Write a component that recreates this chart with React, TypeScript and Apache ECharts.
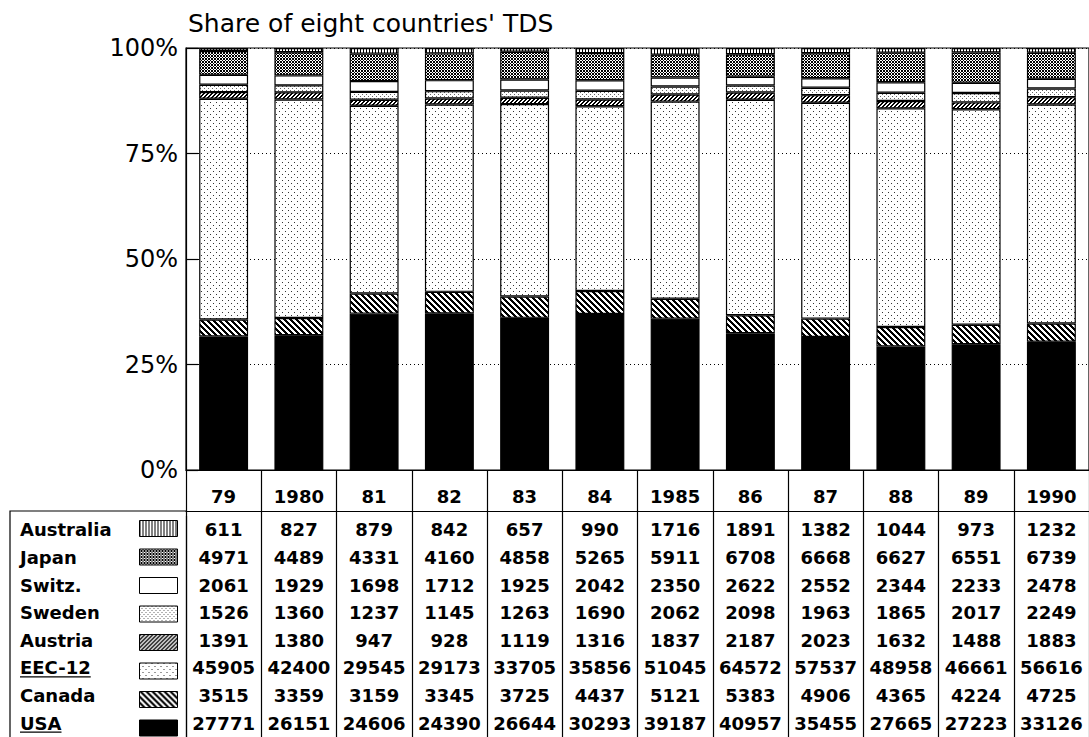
import React, { useEffect, useRef } from 'react';
import * as echarts from 'echarts';

const years = ['79', '1980', '81', '82', '83', '84', '1985', '86', '87', '88', '89', '1990'];
const countries = ['Australia', 'Japan', 'Switz.', 'Sweden', 'Austria', 'EEC-12', 'Canada', 'USA'];
const australia = [611, 827, 879, 842, 657, 990, 1716, 1891, 1382, 1044, 973, 1232];
const japan = [4971, 4489, 4331, 4160, 4858, 5265, 5911, 6708, 6668, 6627, 6551, 6739];
const switz = [2061, 1929, 1698, 1712, 1925, 2042, 2350, 2622, 2552, 2344, 2233, 2478];
const sweden = [1526, 1360, 1237, 1145, 1263, 1690, 2062, 2098, 1963, 1865, 2017, 2249];
const austria = [1391, 1380, 947, 928, 1119, 1316, 1837, 2187, 2023, 1632, 1488, 1883];
const eec12 = [45905, 42400, 29545, 29173, 33705, 35856, 51045, 64572, 57537, 48958, 46661, 56616];
const canada = [3515, 3359, 3159, 3345, 3725, 4437, 5121, 5383, 4906, 4365, 4224, 4725];
const usa = [27771, 26151, 24606, 24390, 26644, 30293, 39187, 40957, 35455, 27665, 27223, 33126];
const yTickLabels = ['0%', '25%', '50%', '75%', '100%'];
const underlined = ['EEC-12', 'USA'];

const valuesByCountry: Record<string, number[]> = {
  'Australia': australia,
  'Japan': japan,
  'Switz.': switz,
  'Sweden': sweden,
  'Austria': austria,
  'EEC-12': eec12,
  'Canada': canada,
  'USA': usa,
};

const FONT = 'DejaVu Sans';

function makePattern(w: number, h: number, pick: (x: number, y: number) => string | null) {
  const c = document.createElement('canvas');
  c.width = w;
  c.height = h;
  const ctx = c.getContext('2d')!;
  ctx.fillStyle = '#fff';
  ctx.fillRect(0, 0, w, h);
  for (let y = 0; y < h; y++) {
    for (let x = 0; x < w; x++) {
      const col = pick(x, y);
      if (col) {
        ctx.fillStyle = col;
        ctx.fillRect(x, y, 1, 1);
      }
    }
  }
  return { image: c.toDataURL(), repeat: 'repeat', imageWidth: w, imageHeight: h } as any;
}

function buildFills(): Record<string, any> {
  return {
    'Australia': makePattern(3, 3, (x) => (x === 0 ? '#000' : null)),
    'Japan': makePattern(3, 3, (x, y) => ((x + y) % 3 === 0 || (x - y + 3) % 3 === 0 ? '#000' : null)),
    'Switz.': '#ffffff',
    'Sweden': makePattern(4, 4, (x, y) => ((x === 0 && y === 0) || (x === 2 && y === 2) ? '#666' : null)),
    'Austria': makePattern(4, 4, (x, y) => ((x + y) % 4 < 2 ? '#000' : null)),
    'EEC-12': makePattern(6, 6, (x, y) => ((x === 0 && y === 0) || (x === 3 && y === 3) ? '#333' : null)),
    'Canada': makePattern(6, 6, (x, y) => ((x - y + 6) % 6 < 3 ? '#000' : null)),
    'USA': '#000000',
  };
}

function measure(text: string, font: string) {
  const c = document.createElement('canvas');
  const ctx = c.getContext('2d')!;
  ctx.font = font;
  return ctx.measureText(text).width;
}

export default function App() {
  const ref = useRef<HTMLDivElement>(null);

  useEffect(() => {
    if (!ref.current) return;
    const chart = echarts.init(ref.current, undefined, { renderer: 'svg' });
    const fills = buildFills();

    const totals = years.map((_, i) => countries.reduce((s, c) => s + valuesByCountry[c][i], 0));
    const stackOrder = [...countries].reverse();

    const barSeries = stackOrder.map((name) => ({
      type: 'bar',
      name,
      stack: 'total',
      xAxisIndex: 0,
      yAxisIndex: 0,
      barCategoryGap: '35%',
      data: valuesByCountry[name].map((v, i) => (v / totals[i]) * 100),
      itemStyle: { color: fills[name], borderColor: '#000', borderWidth: 1.2 },
      emphasis: { disabled: true },
      silent: true,
    }));

    const tableData: any[] = [];
    countries.forEach((c, r) => {
      valuesByCountry[c].forEach((v, i) => tableData.push([i, r, v]));
    });

    const lineStyle = { color: '#000', width: 1.2 };

    chart.setOption({
      animation: false,
      textStyle: { fontFamily: FONT },
      title: {
        text: "Share of eight countries' TDS",
        left: 188,
        top: 11,
        padding: 0,
        textStyle: { fontFamily: FONT, fontSize: 25, fontWeight: 'normal', color: '#000' },
      },
      legend: {
        orient: 'vertical',
        left: 139,
        top: 520,
        height: 260,
        itemWidth: 38,
        itemHeight: 16,
        itemGap: 11.5,
        padding: 0,
        selectedMode: false,
        formatter: () => '',
        textStyle: { fontSize: 8 },
        itemStyle: { borderColor: '#000', borderWidth: 1 },
        data: countries.map((name) => ({ name, icon: 'rect' })),
      },
      grid: [
        { left: 186, right: 0, top: 48, height: 422, show: true, borderColor: '#000', borderWidth: 1.2, backgroundColor: 'transparent' },
        { left: 186, right: 0, top: 516, height: 222 },
      ],
      xAxis: [
        {
          gridIndex: 0,
          type: 'category',
          data: years,
          axisLine: { show: true, lineStyle },
          axisTick: { show: true, length: 46, interval: 0, lineStyle },
          axisLabel: { interval: 0, margin: 17, fontSize: 18, fontWeight: 'bold', color: '#000', fontFamily: FONT },
          splitLine: { show: false },
        },
        {
          gridIndex: 1,
          type: 'category',
          data: years,
          position: 'top',
          offset: 5,
          axisLine: { show: true, lineStyle },
          axisTick: { show: false },
          axisLabel: { show: false },
          splitLine: { show: true, interval: 0, lineStyle },
        },
      ],
      yAxis: [
        {
          gridIndex: 0,
          type: 'value',
          min: 0,
          max: 100,
          interval: 25,
          axisLine: { show: true, lineStyle },
          axisTick: { show: true, inside: true, length: 12, lineStyle },
          axisLabel: {
            formatter: (v: number) => yTickLabels[Math.round(v / 25)],
            fontSize: 24,
            color: '#000',
            margin: 8,
            fontFamily: FONT,
          },
          splitLine: { show: true, lineStyle: { type: [1, 3], color: '#000', width: 1 } },
        },
        {
          gridIndex: 1,
          type: 'category',
          data: countries,
          inverse: true,
          axisLine: { show: true, lineStyle },
          axisTick: { show: false },
          axisLabel: { interval: 0, align: 'left', margin: 166, fontSize: 18, fontWeight: 'bold', color: '#000', fontFamily: FONT },
          splitLine: { show: false },
        },
      ],
      series: [
        ...barSeries,
        {
          type: 'scatter',
          name: 'table',
          xAxisIndex: 1,
          yAxisIndex: 1,
          symbolSize: 0,
          itemStyle: { color: '#000', opacity: 1 },
          silent: true,
          data: tableData,
          label: {
            show: true,
            position: 'inside',
            formatter: (p: any) => String(p.value[2]),
            fontSize: 18,
            fontWeight: 'bold',
            color: '#000',
            opacity: 1,
            textBorderWidth: 0,
            fontFamily: FONT,
          },
          emphasis: { disabled: true },
        },
      ],
    });

    const font = `bold 18px "${FONT}"`;
    const graphics: any[] = [
      { type: 'polyline', shape: { points: [[10, 740], [10, 511], [186, 511]] }, style: { stroke: '#000', lineWidth: 1.2, fill: null }, silent: true },
    ];
    underlined.forEach((name) => {
      const y = chart.convertToPixel({ yAxisIndex: 1 } as any, name) as any as number;
      const w = measure(name, font);
      graphics.push({
        type: 'line',
        shape: { x1: 20, y1: y + 9, x2: 20 + w, y2: y + 9 },
        style: { stroke: '#000', lineWidth: 1.2 },
        silent: true,
      });
    });
    chart.setOption({ graphic: graphics });

    return () => chart.dispose();
  }, []);

  return (
    <div
      ref={ref}
      style={{ position: 'absolute', left: 0, top: 0, width: 1089, height: 737, background: '#fff' }}
    />
  );
}
